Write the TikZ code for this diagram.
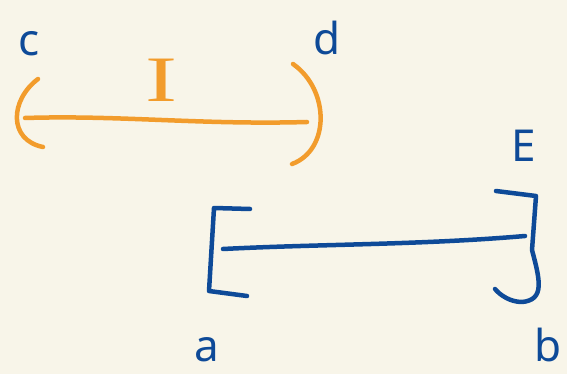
\documentclass[tikz,border=0pt]{standalone}
\usepackage{fontspec}
\setmainfont{Noto Sans}
\newfontfamily\serifhand{Liberation Serif}
\usepackage{xcolor}
\usepackage{tikz}
\usetikzlibrary{positioning}
\definecolor{paper}{HTML}{F8F5E9}
\definecolor{pen}{HTML}{0E4A98}
\definecolor{marker}{HTML}{F29C2C}

\begin{document}
\begin{tikzpicture}[
  x=1pt,y=-1pt,
  ink/.style={line width=4.5pt,line cap=round,line join=round},
  bluepen/.style={ink,draw=pen},
  orangepen/.style={ink,draw=marker},
  lab/.style={font=\fontsize{44}{44}\selectfont,inner sep=0pt,text=pen}
]
% ---- Paper ----
\fill[paper] (0,0) rectangle (567,374);
\useasboundingbox (0,0) rectangle (567,374);
% ---- Open interval (orange) ----
\coordinate (il) at (25,118);
\coordinate (ir) at (307,122);
\draw[orangepen] (il) .. controls (120,115) and (200,125) .. (ir);
\draw[orangepen] (38,79) .. controls (10,100) and (8,140) .. (43,147);
\draw[orangepen] (293,64) .. controls (330,90) and (330,150) .. (292,164);
\node[lab,text=marker,font=\serifhand\fontsize{48}{48}\selectfont,
      xscale=2.0,yscale=1.35,transform shape] (labi) at (161,80) {I};
% ---- Closed interval (blue) ----
\coordinate (el) at (223,249);
\coordinate (er) at (525,236);
\draw[bluepen] (el) .. controls (320,244) and (420,245) .. (er);
\draw[bluepen] (250,209) -- (214,208) -- (209,291) -- (247,296);
\draw[bluepen] (496,191) -- (536,196) -- (532,250)
               .. controls (540,280) and (545,300) .. (522,302)
               .. controls (510,302) and (500,295) .. (495,289);
% ---- Labels ----
\node[lab] (labc) at (29,44) {c};
\node[lab] (labd) at (327,38) {d};
\node[lab] (labe) at (524,146) {E};
\node[lab] (laba) at (207,350) {a};
\node[lab] (labb) at (548,345) {b};
\end{tikzpicture}
\end{document}
